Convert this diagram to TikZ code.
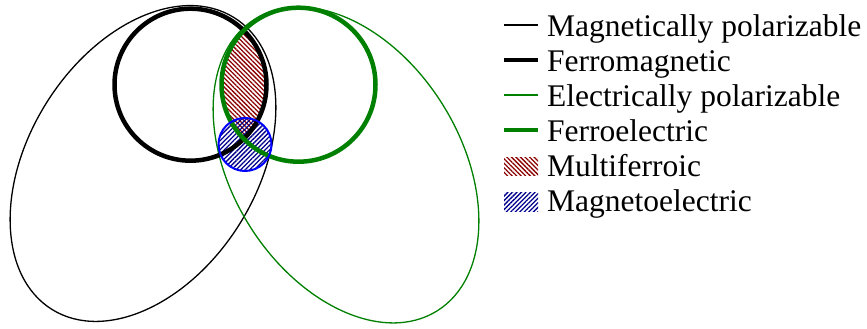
\documentclass[tikz,border=0pt]{standalone}
\usepackage{fontspec}
\setmainfont{Liberation Serif}
\usetikzlibrary{patterns.meta}
\definecolor{mfred}{RGB}{139,0,0}
\definecolor{menavy}{RGB}{0,0,140}
\definecolor{fegreen}{RGB}{0,128,0}
\tikzset{
  thinline/.style={line width=1.3pt},
  thickline/.style={line width=4.5pt},
  redhatch/.style={pattern={Lines[angle=-45,distance=3.2pt,line width=1.3pt]},pattern color=mfred},
  bluehatch/.style={pattern={Lines[angle=45,distance=3.2pt,line width=1.3pt]},pattern color=menavy},
  legtext/.style={anchor=base west,inner sep=0pt,font=\fontsize{31.5}{35}\selectfont},
}
\begin{document}
\begin{tikzpicture}[x=1pt,y=1pt]
\useasboundingbox (0,0) rectangle (867,329);
% thin ellipses
\draw[thinline,black] (143,165.5) ellipse [x radius=172,y radius=114,rotate=58];
\draw[thinline,fegreen] (346,164) ellipse [x radius=172,y radius=114,rotate=-58];
% multiferroic hatch
\begin{scope}
  \clip (190.5,244.3) circle [radius=76];
  \fill[redhatch] (298.5,244.3) circle [radius=77];
\end{scope}
% magnetoelectric hatch
\fill[bluehatch] (245,184.5) circle [radius=26.5];
% thick circles
\draw[thickline,black] (190.5,244.3) circle [radius=76];
\draw[thickline,fegreen] (298.5,244.3) circle [radius=77];
\draw[line width=2pt,blue] (245,184.5) circle [radius=26.5];
% legend
\node[legtext] (l1) at (547,292) {Magnetically polarizable};
\node[legtext] (l2) at (547,257) {Ferromagnetic};
\node[legtext] (l3) at (547,222) {Electrically polarizable};
\node[legtext] (l4) at (547,187) {Ferroelectric};
\node[legtext] (l5) at (547,152) {Multiferroic};
\node[legtext] (l6) at (547,117) {Magnetoelectric};
\draw[thinline,black] (504,304) -- (538,304);
\draw[thickline,black] (504,269) -- (538,269);
\draw[thinline,fegreen] (504,234) -- (538,234);
\draw[thickline,fegreen] (504,199) -- (538,199);
\fill[redhatch] (504,153) rectangle (538,171);
\fill[bluehatch] (504,117) rectangle (538,136);
\end{tikzpicture}
\end{document}
